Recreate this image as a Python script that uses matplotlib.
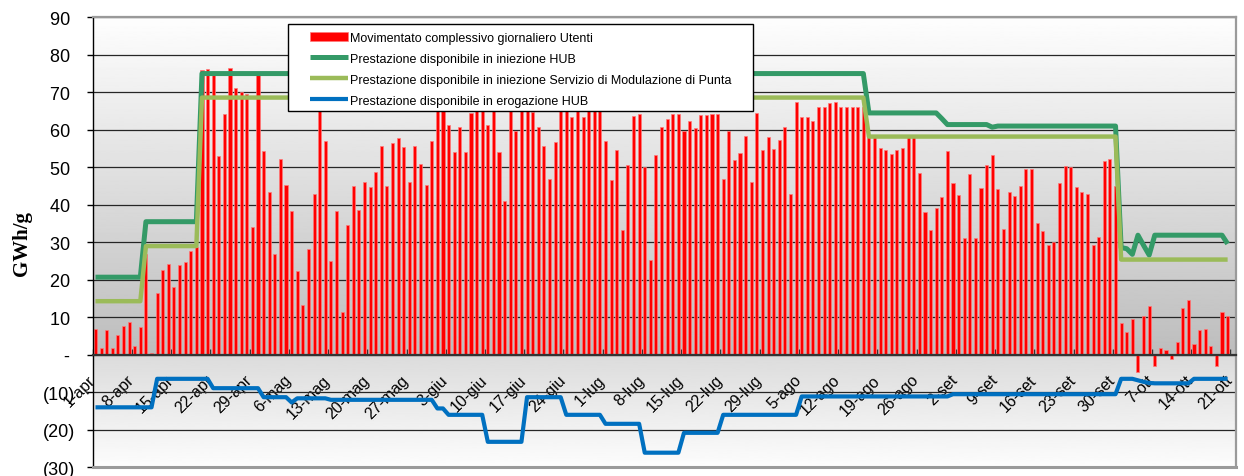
import numpy as np
import matplotlib
matplotlib.use('Agg')
import matplotlib.pyplot as plt
import matplotlib.transforms as mtransforms
from matplotlib.patches import Rectangle

plt.rcParams['font.family'] = ['Liberation Sans', 'DejaVu Sans']

# movimentato complessivo giornaliero (GWh/g), 1-apr ... 21-ott
movimentato = [
    6.9, 1.8, 6.6, 1.8, 5.3, 7.6, 8.7, 2.3, 7.3, 27.0,
    0.6, 16.6, 22.6, 24.3, 18.2, 24.0, 24.7, 27.6, 28.7, 76.0,
    76.2, 74.8, 53.0, 64.3, 76.6, 71.2, 70.0, 69.5, 34.1, 74.5,
    54.3, 43.5, 27.0, 52.1, 45.4, 38.3, 22.3, 13.3, 28.2, 43.0,
    68.0, 57.1, 25.1, 38.4, 11.5, 34.7, 45.0, 38.7, 46.2, 44.8,
    48.8, 55.8, 44.9, 56.6, 57.7, 55.3, 46.2, 55.8, 51.0, 45.4,
    57.0, 67.0, 66.0, 61.2, 54.1, 60.7, 54.1, 64.5, 67.0, 68.0,
    61.2, 66.0, 54.1, 41.1, 68.0, 59.6, 67.0, 66.0, 64.7, 60.7,
    55.6, 46.9, 56.7, 67.0, 66.0, 63.4, 66.0, 63.4, 67.0, 66.0,
    67.0, 57.0, 46.5, 54.6, 33.4, 50.6, 63.7, 64.2, 50.1, 25.4,
    53.3, 60.7, 62.9, 64.2, 64.2, 59.7, 62.3, 60.4, 63.9, 63.9,
    64.2, 64.2, 46.8, 59.6, 51.9, 53.7, 58.3, 46.2, 64.5, 54.6,
    58.1, 54.8, 57.3, 60.7, 43.0, 67.4, 63.4, 63.4, 62.4, 66.2,
    66.2, 67.1, 67.3, 66.2, 66.2, 66.1, 66.2, 66.2, 58.0, 58.0,
    55.2, 54.6, 53.6, 54.6, 55.2, 58.0, 58.0, 48.4, 38.0, 33.4,
    39.1, 42.1, 54.3, 45.9, 42.5, 31.2, 48.3, 31.2, 44.6, 50.7,
    53.4, 44.1, 33.6, 43.3, 42.4, 45.0, 49.5, 49.5, 35.2, 33.0,
    29.4, 30.1, 45.7, 50.4, 50.0, 44.8, 43.5, 43.0, 29.2, 31.4,
    51.8, 52.1, 45.1, 8.4, 6.2, 9.5, -4.5, 10.4, 12.9, -2.9,
    1.7, 1.4, -1.0, 3.5, 12.4, 14.6, 2.8, 6.6, 6.9, 2.4,
    -2.9, 11.3, 10.4, np.nan,
]

# the capacity series are flat for runs of days: (level, number of days)
hub_inj_liv = [20.7, 35.5, 75.0, 64.5, 63.0, 61.4, 60.7, 61.0,
               28.6, 28.3, 26.8, 31.9, 29.2, 26.6, 31.9, 29.6, np.nan]
hub_inj_gg = [9, 10, 119, 13, 1, 8, 1, 22, 1, 1, 1, 1, 1, 1, 13, 1, 1]

modul_liv = [14.3, 29.0, 68.6, 58.2, 25.4, np.nan]
modul_gg = [9, 10, 119, 45, 20, 1]

erog_liv = [-14.0, -6.4, -8.9, -11.3, -12.7, -11.6, -12.0, -14.3, -16.0, -23.2,
            -11.3, -16.0, -18.4, -26.1, -20.8, -16.0, -11.1, -10.5, -6.4, -6.8,
            -7.2, -7.5, -7.6, -6.4, np.nan]
erog_gg = [11, 10, 9, 5, 1, 6, 19, 2, 7, 7,
           7, 7, 7, 7, 7, 14, 27, 30, 3, 1,
           1, 1, 7, 7, 1]

etichette = ['1-apr', '8-apr', '15-apr', '22-apr', '29-apr', '6-mag', '13-mag',
             '20-mag', '27-mag', '3-giu', '10-giu', '17-giu', '24-giu', '1-lug',
             '8-lug', '15-lug', '22-lug', '29-lug', '5-ago', '12-ago', '19-ago',
             '26-ago', '2-set', '9-set', '16-set', '23-set', '30-set', '7-ott',
             '14-ott', '21-ott']

nomi = ['Movimentato complessivo giornaliero Utenti',
        'Prestazione disponibile in iniezione HUB',
        'Prestazione disponibile in iniezione Servizio di Modulazione di Punta',
        'Prestazione disponibile in erogazione HUB']

hub_inj = np.repeat(hub_inj_liv, hub_inj_gg)
modul = np.repeat(modul_liv, modul_gg)
erog = np.repeat(erog_liv, erog_gg)
giorni = np.arange(len(movimentato))

fig = plt.figure(figsize=(12.44, 4.77), dpi=100)
ax = fig.add_axes([0.0745, 0.0182, 0.9191, 0.9434])

# spines first: moving a spine resets the ticks
ax.spines['bottom'].set_position(('data', 0))
ax.spines['bottom'].set_color('#333333')
ax.spines['bottom'].set_linewidth(1.6)
ax.spines['left'].set_color('black')
ax.spines['left'].set_linewidth(1)
for s in ['top', 'right']:
    ax.spines[s].set_color('#9a9a9a')
    ax.spines[s].set_linewidth(1.6)

# grey gradients of the plot area
ax.imshow(np.linspace(0.995, 0.74, 256)[:, None], cmap='gray', vmin=0, vmax=1,
          extent=(-0.5, len(giorni) - 0.5, 0, 90), aspect='auto', zorder=0)
ax.imshow(np.linspace(0.86, 0.99, 256)[:, None], cmap='gray', vmin=0, vmax=1,
          extent=(-0.5, len(giorni) - 0.5, -30, 0), aspect='auto', zorder=0)

barre = ax.bar(giorni, movimentato, width=0.55, color='#ff0000',
               edgecolor='#ff7a7a', linewidth=0.5, zorder=2)
l1, = ax.plot(giorni, hub_inj, color='#349a67', lw=3.6, zorder=3,
              solid_joinstyle='round', solid_capstyle='butt')
l2, = ax.plot(giorni, modul, color='#9bbb59', lw=3.2, zorder=3,
              solid_joinstyle='round', solid_capstyle='butt')
l3, = ax.plot(giorni, erog, color='#0070c0', lw=3.0, zorder=3,
              solid_joinstyle='round', solid_capstyle='butt')
ax.axhline(-30, color='#9a9a9a', lw=2.2, zorder=2.6, clip_on=False)

ax.set_xlim(-0.5, len(giorni) - 0.5)
ax.set_ylim(-30, 90)

yt = np.arange(-30, 91, 10)
ax.set_yticks(yt)
ax.set_yticklabels(['(%d)' % -v if v < 0 else ('- ' if v == 0 else '%d ' % v) for v in yt])
ax.tick_params(axis='y', direction='out', length=4.5, width=1, pad=8, labelsize=13)
ax.yaxis.grid(True, color='#262626', lw=0.9)
ax.set_axisbelow(True)

pos = giorni[::7]
ax.set_xticks(pos)
ax.set_xticklabels(etichette)
ax.set_xticks(pos - 0.5, minor=True)
ax.tick_params(axis='x', which='major', length=0, pad=16, labelsize=11.5, labelrotation=45)
ax.tick_params(axis='x', which='minor', direction='in', length=4, width=1, color='#333333')
sposta = mtransforms.ScaledTranslation(-3 / 100, 0, fig.dpi_scale_trans)
for t in ax.get_xticklabels():
    t.set_ha('right')
    t.set_va('center')
    t.set_rotation_mode('anchor')
    t.set_transform(t.get_transform() + sposta)

ax.set_ylabel('GWh/g', fontfamily='Liberation Serif', fontweight='bold',
              fontsize=15, labelpad=8)

# legend box
ax.add_patch(Rectangle((0.1706, 0.7918), 0.4068, 0.1933, transform=ax.transAxes,
                       facecolor='white', edgecolor='black', lw=1, zorder=4.5))
ax.legend([barre, l1, l2, l3], nomi, loc='upper left', bbox_to_anchor=(0.1899, 0.968),
          frameon=False, fontsize=9, handlelength=3.05, handletextpad=0.15,
          labelspacing=0.72, borderpad=0, borderaxespad=0).set_zorder(5)

fig.savefig('out.png', dpi=100)
